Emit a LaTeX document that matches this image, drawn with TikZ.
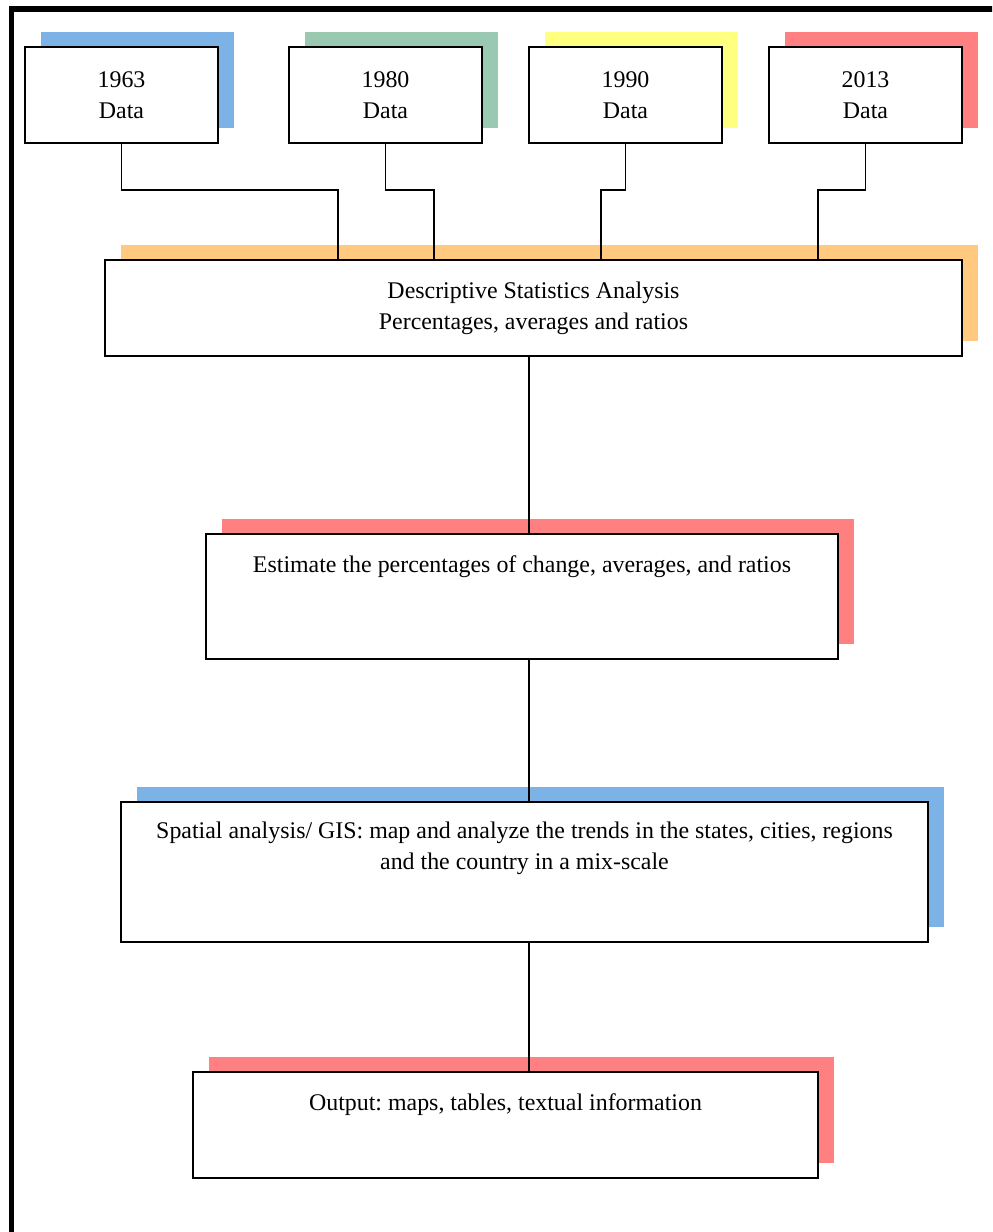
\documentclass[tikz,border=0pt]{standalone}
\usepackage{fontspec}
\setmainfont{Liberation Serif}
\usetikzlibrary{shadows}
\definecolor{shblue}{HTML}{7DB2E6}
\definecolor{shgreen}{HTML}{99C9B1}
\definecolor{shyellow}{HTML}{FFFF80}
\definecolor{shred}{HTML}{FF8080}
\definecolor{shorange}{HTML}{FFC97F}
\frenchspacing

\begin{document}
\begin{tikzpicture}[x=0.02cm,y=-0.02cm, every node/.style={font=\fontsize{13.6pt}{17.6pt}\selectfont},
  flowbox/.style={draw=black,line width=1.1pt,fill=white,inner sep=0pt,align=center},
  backing/.style={drop shadow={shadow xshift=0.32cm,shadow yshift=0.3cm,fill=#1,opacity=1}},
  boxtext/.style={anchor=north,align=center,inner sep=0pt},
  wire/.style={draw=black,line width=1.1pt}]
  \useasboundingbox (0,0) rectangle (992,1232);
  \clip (0,0) rectangle (992,1232);
  % outer frame, runs off the page on the right and bottom
  \draw[line width=3.4pt] (11.5,1260) -- (11.5,9) -- (1010,9);
  % data sources
  \foreach \yr/\cx/\col in {1963/121.5/shblue,1980/385.5/shgreen,1990/625.5/shyellow,2013/865.5/shred}
    \node[flowbox,backing=\col,minimum width=3.86cm,minimum height=1.92cm] (d\yr) at (\cx,95) {\yr\\Data};
  \node[flowbox,backing=shorange,minimum width=17.14cm,minimum height=1.92cm] (desc) at (533.5,308)
    {Descriptive Statistics Analysis\\Percentages, averages and ratios};
  \node[flowbox,backing=shred,minimum width=12.64cm,minimum height=2.5cm] (est) at (522,596.5) {};
  \node[boxtext] (esttxt) at ([yshift=-0.45cm]est.north) {Estimate the percentages of change, averages, and ratios};
  \node[flowbox,backing=shblue,minimum width=16.14cm,minimum height=2.8cm] (gis) at (524.5,872) {};
  \node[boxtext] (gistxt) at ([yshift=-0.41cm]gis.north)
    {Spatial analysis/ GIS: map and analyze the trends in the states, cities, regions\\and the country in a mix-scale};
  \node[flowbox,backing=shred,minimum width=12.5cm,minimum height=2.12cm] (out) at (505.5,1125) {};
  \node[boxtext] (outtxt) at ([yshift=-0.45cm]out.north) {Output: maps, tables, textual information};
  % connectors
  \foreach \yr/\bx in {1963/338,1980/434,1990/601,2013/818}
    \draw[wire] (d\yr.south) |- (\bx,190) -- (\bx,0 |- desc.north);
  \draw[wire] (529,0 |- desc.south) -- (529,0 |- est.north);
  \draw[wire] (529,0 |- est.south) -- (529,0 |- gis.north);
  \draw[wire] (529,0 |- gis.south) -- (529,0 |- out.north);
\end{tikzpicture}
\end{document}
